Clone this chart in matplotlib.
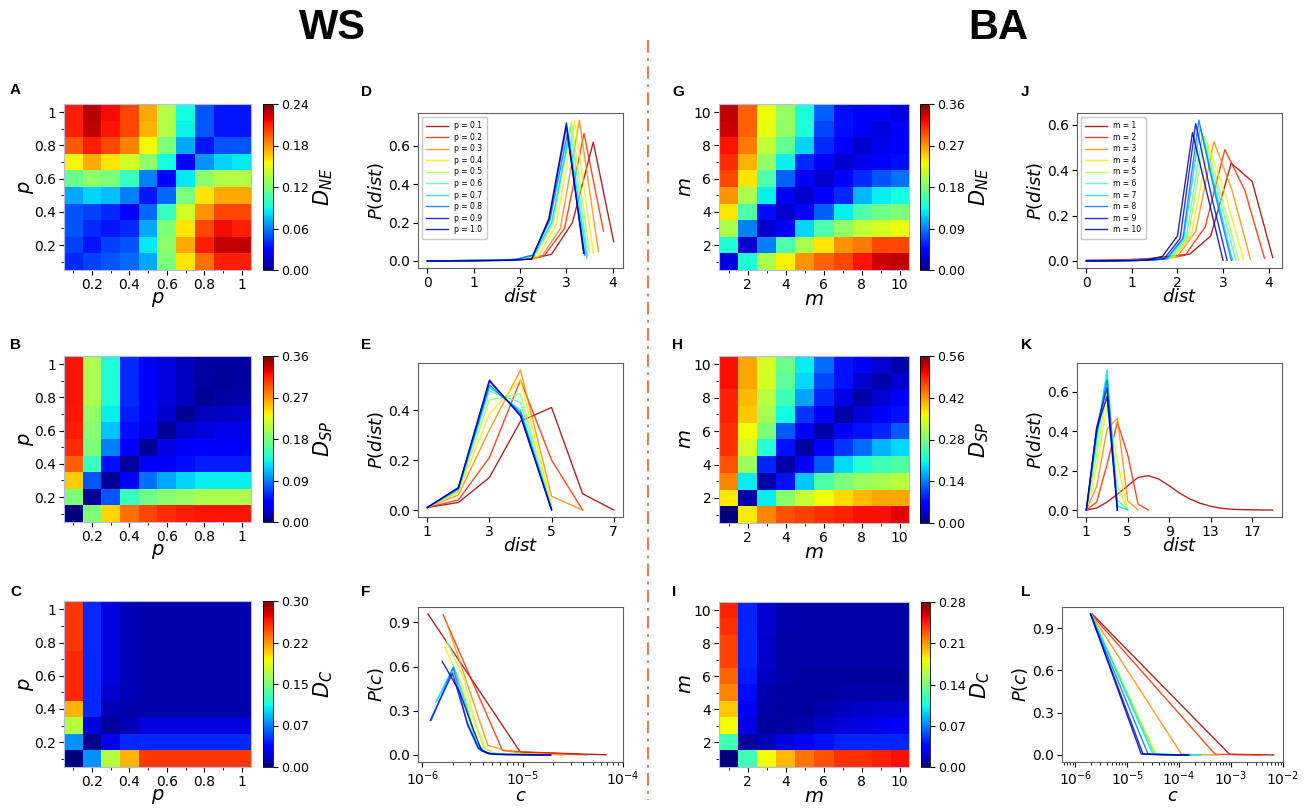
import numpy as np
import matplotlib
matplotlib.use('Agg')
import matplotlib.pyplot as plt
from matplotlib.lines import Line2D

W, H = 1307, 809

# ---- distance matrices (rows listed from the top row = largest parameter) ----
ws_dne = [
    [0.210, 0.228, 0.215, 0.200, 0.175, 0.135, 0.090, 0.050, 0.035, 0.035],
    [0.210, 0.226, 0.213, 0.200, 0.172, 0.135, 0.088, 0.050, 0.035, 0.035],
    [0.195, 0.210, 0.200, 0.185, 0.155, 0.120, 0.070, 0.035, 0.050, 0.050],
    [0.155, 0.175, 0.160, 0.145, 0.125, 0.090, 0.030, 0.065, 0.080, 0.085],
    [0.115, 0.125, 0.120, 0.100, 0.060, 0.030, 0.085, 0.125, 0.135, 0.135],
    [0.070, 0.080, 0.075, 0.060, 0.035, 0.055, 0.120, 0.160, 0.175, 0.175],
    [0.050, 0.045, 0.040, 0.030, 0.055, 0.100, 0.145, 0.180, 0.200, 0.200],
    [0.050, 0.040, 0.035, 0.040, 0.070, 0.120, 0.160, 0.200, 0.215, 0.210],
    [0.045, 0.035, 0.045, 0.050, 0.085, 0.125, 0.175, 0.210, 0.225, 0.225],
    [0.040, 0.045, 0.050, 0.055, 0.070, 0.120, 0.160, 0.190, 0.210, 0.210],
]
ws_dsp = [
    [0.320, 0.200, 0.140, 0.060, 0.045, 0.030, 0.020, 0.012, 0.010, 0.010],
    [0.320, 0.200, 0.140, 0.060, 0.045, 0.030, 0.020, 0.012, 0.008, 0.010],
    [0.320, 0.200, 0.140, 0.060, 0.045, 0.030, 0.020, 0.008, 0.012, 0.014],
    [0.318, 0.190, 0.130, 0.055, 0.045, 0.025, 0.008, 0.020, 0.022, 0.025],
    [0.315, 0.185, 0.115, 0.050, 0.035, 0.008, 0.025, 0.030, 0.035, 0.035],
    [0.310, 0.180, 0.090, 0.045, 0.008, 0.030, 0.040, 0.045, 0.045, 0.045],
    [0.290, 0.150, 0.050, 0.010, 0.045, 0.045, 0.050, 0.055, 0.055, 0.055],
    [0.250, 0.075, 0.008, 0.045, 0.085, 0.105, 0.120, 0.130, 0.130, 0.130],
    [0.180, 0.008, 0.075, 0.150, 0.175, 0.185, 0.190, 0.200, 0.200, 0.200],
    [0.000, 0.180, 0.245, 0.285, 0.300, 0.310, 0.315, 0.320, 0.320, 0.320],
]
ws_dc = [
    [0.255, 0.050, 0.025, 0.015, 0.012, 0.012, 0.012, 0.012, 0.012, 0.012],
    [0.255, 0.050, 0.025, 0.015, 0.012, 0.012, 0.012, 0.012, 0.012, 0.012],
    [0.255, 0.050, 0.025, 0.015, 0.012, 0.012, 0.012, 0.012, 0.012, 0.012],
    [0.260, 0.050, 0.025, 0.015, 0.012, 0.012, 0.012, 0.012, 0.012, 0.012],
    [0.260, 0.050, 0.025, 0.015, 0.012, 0.012, 0.012, 0.012, 0.012, 0.012],
    [0.260, 0.050, 0.022, 0.015, 0.012, 0.012, 0.012, 0.012, 0.012, 0.012],
    [0.215, 0.050, 0.015, 0.012, 0.012, 0.012, 0.012, 0.012, 0.012, 0.012],
    [0.170, 0.025, 0.008, 0.015, 0.025, 0.025, 0.025, 0.025, 0.025, 0.025],
    [0.080, 0.005, 0.030, 0.050, 0.050, 0.050, 0.050, 0.050, 0.050, 0.050],
    [0.000, 0.080, 0.170, 0.215, 0.255, 0.255, 0.255, 0.255, 0.255, 0.255],
]
ba_dne = [
    [0.340, 0.290, 0.230, 0.190, 0.140, 0.080, 0.050, 0.045, 0.040, 0.030],
    [0.335, 0.290, 0.225, 0.190, 0.140, 0.070, 0.050, 0.040, 0.030, 0.040],
    [0.320, 0.280, 0.210, 0.170, 0.120, 0.060, 0.040, 0.025, 0.035, 0.040],
    [0.310, 0.260, 0.190, 0.130, 0.060, 0.040, 0.025, 0.035, 0.040, 0.050],
    [0.300, 0.240, 0.160, 0.080, 0.040, 0.025, 0.040, 0.060, 0.075, 0.085],
    [0.270, 0.200, 0.130, 0.040, 0.025, 0.040, 0.060, 0.110, 0.130, 0.135],
    [0.240, 0.160, 0.050, 0.025, 0.045, 0.080, 0.130, 0.160, 0.175, 0.180],
    [0.200, 0.090, 0.025, 0.045, 0.120, 0.160, 0.190, 0.210, 0.220, 0.230],
    [0.140, 0.025, 0.090, 0.160, 0.200, 0.240, 0.270, 0.280, 0.300, 0.300],
    [0.030, 0.140, 0.200, 0.235, 0.270, 0.290, 0.300, 0.320, 0.335, 0.340],
]
ba_dsp = [
    [0.500, 0.410, 0.340, 0.270, 0.200, 0.130, 0.080, 0.070, 0.040, 0.020],
    [0.500, 0.410, 0.340, 0.260, 0.190, 0.110, 0.080, 0.040, 0.020, 0.040],
    [0.490, 0.400, 0.320, 0.240, 0.160, 0.090, 0.050, 0.020, 0.040, 0.070],
    [0.490, 0.390, 0.310, 0.210, 0.100, 0.070, 0.020, 0.045, 0.070, 0.080],
    [0.480, 0.360, 0.280, 0.120, 0.070, 0.020, 0.060, 0.080, 0.090, 0.120],
    [0.480, 0.340, 0.220, 0.080, 0.020, 0.070, 0.100, 0.130, 0.170, 0.190],
    [0.460, 0.300, 0.090, 0.020, 0.070, 0.120, 0.190, 0.220, 0.240, 0.250],
    [0.430, 0.200, 0.020, 0.080, 0.180, 0.250, 0.280, 0.300, 0.310, 0.320],
    [0.370, 0.020, 0.200, 0.290, 0.330, 0.360, 0.380, 0.400, 0.410, 0.410],
    [0.000, 0.370, 0.430, 0.460, 0.470, 0.480, 0.490, 0.500, 0.500, 0.510],
]
ba_dc = [
    [0.245, 0.045, 0.020, 0.012, 0.010, 0.010, 0.010, 0.010, 0.010, 0.010],
    [0.240, 0.045, 0.020, 0.012, 0.010, 0.010, 0.010, 0.010, 0.010, 0.010],
    [0.235, 0.045, 0.018, 0.010, 0.010, 0.010, 0.010, 0.010, 0.010, 0.010],
    [0.235, 0.045, 0.018, 0.010, 0.010, 0.010, 0.010, 0.010, 0.010, 0.010],
    [0.225, 0.042, 0.016, 0.010, 0.008, 0.008, 0.008, 0.008, 0.008, 0.008],
    [0.215, 0.038, 0.012, 0.008, 0.008, 0.008, 0.010, 0.010, 0.010, 0.010],
    [0.195, 0.030, 0.010, 0.008, 0.008, 0.012, 0.015, 0.018, 0.020, 0.020],
    [0.180, 0.025, 0.008, 0.008, 0.012, 0.018, 0.022, 0.025, 0.028, 0.030],
    [0.120, 0.008, 0.015, 0.025, 0.035, 0.040, 0.045, 0.045, 0.045, 0.045],
    [0.000, 0.120, 0.180, 0.200, 0.220, 0.230, 0.240, 0.240, 0.245, 0.250],
]

# ---- distance distributions, WS ----
p_labels = ['p = 0.1', 'p = 0.2', 'p = 0.3', 'p = 0.4', 'p = 0.5',
            'p = 0.6', 'p = 0.7', 'p = 0.8', 'p = 0.9', 'p = 1.0']
ws_dist_x = [
    [0, 0.45, 0.89, 1.34, 1.79, 2.23, 2.68, 3.13, 3.58, 4.02],
    [0, 0.42, 0.84, 1.27, 1.69, 2.11, 2.53, 2.96, 3.38, 3.80],
    [0, 0.41, 0.82, 1.23, 1.64, 2.05, 2.46, 2.87, 3.28, 3.69],
    [0, 0.40, 0.80, 1.19, 1.59, 1.99, 2.39, 2.78, 3.18, 3.58],
    [0, 0.39, 0.78, 1.17, 1.56, 1.94, 2.33, 2.72, 3.11, 3.50],
    [0, 0.38, 0.77, 1.15, 1.54, 1.92, 2.31, 2.69, 3.08, 3.46],
    [0, 0.38, 0.76, 1.15, 1.53, 1.91, 2.29, 2.68, 3.06, 3.44],
    [0, 0.38, 0.76, 1.13, 1.51, 1.89, 2.27, 2.64, 3.02, 3.40],
    [0, 0.38, 0.75, 1.13, 1.50, 1.88, 2.25, 2.63, 3.00, 3.38],
    [0, 0.37, 0.75, 1.12, 1.50, 1.87, 2.25, 2.62, 3.00, 3.37],
]
ws_dist_y = [
    [0, 0.001, 0.002, 0.003, 0.005, 0.010, 0.035, 0.200, 0.620, 0.100],
    [0, 0.001, 0.002, 0.003, 0.005, 0.010, 0.030, 0.170, 0.665, 0.155],
    [0, 0.001, 0.002, 0.003, 0.004, 0.008, 0.020, 0.170, 0.735, 0.050],
    [0, 0.001, 0.002, 0.003, 0.004, 0.008, 0.025, 0.190, 0.730, 0.040],
    [0, 0.001, 0.002, 0.003, 0.004, 0.008, 0.030, 0.200, 0.725, 0.045],
    [0, 0.001, 0.002, 0.003, 0.004, 0.008, 0.030, 0.200, 0.700, 0.030],
    [0, 0.001, 0.002, 0.003, 0.004, 0.008, 0.030, 0.200, 0.650, 0.017],
    [0, 0.001, 0.002, 0.003, 0.004, 0.008, 0.030, 0.210, 0.660, 0.030],
    [0, 0.000, 0.001, 0.002, 0.003, 0.006, 0.010, 0.220, 0.700, 0.040],
    [0, 0.000, 0.000, 0.001, 0.002, 0.004, 0.010, 0.220, 0.720, 0.040],
]

# shortest path length distributions, WS
ws_sp_x = [[1, 2, 3, 4, 5, 6, 7], [1, 2, 3, 4, 5, 6], [1, 2, 3, 4, 5, 6],
           [1, 2, 3, 4, 5], [1, 2, 3, 4, 5], [1, 2, 3, 4, 5], [1, 2, 3, 4, 5],
           [1, 2, 3, 4, 5], [1, 2, 3, 4, 5], [1, 2, 3, 4, 5]]
ws_sp_y = [
    [0.01, 0.030, 0.130, 0.355, 0.410, 0.065, 0.0],
    [0.01, 0.040, 0.210, 0.520, 0.200, 0.0],
    [0.01, 0.060, 0.320, 0.560, 0.055, 0.0],
    [0.01, 0.070, 0.385, 0.520, 0.020],
    [0.01, 0.075, 0.440, 0.465, 0.010],
    [0.01, 0.080, 0.475, 0.430, 0.005],
    [0.01, 0.085, 0.490, 0.400, 0.003],
    [0.01, 0.085, 0.500, 0.390, 0.002],
    [0.01, 0.088, 0.515, 0.380, 0.001],
    [0.01, 0.090, 0.520, 0.375, 0.000],
]

# clustering distributions, WS (c in units of 1e-6)
ws_c_x = [
    [1.14, 9.5, 17.9, 26.2, 34.6, 42.9, 51.3, 59.6, 68.0],
    [1.61, 6.3, 11.0, 15.7, 20.4, 25.1, 29.8, 34.5, 39.2, 43.9],
    [1.75, 4.5, 7.2, 9.9, 12.6, 15.3, 18.1, 20.8, 23.5, 26.2],
    [1.67, 2.5, 3.3, 4.1, 4.9, 5.7, 8.0, 11.0, 14.0, 17.0],
    [1.75, 2.6, 3.45, 4.3, 5.15, 6.0, 8.0, 11.0, 14.0, 17.0],
    [1.40, 2.07, 2.74, 3.41, 4.08, 4.75, 7.0, 10.0, 14.0, 18.0],
    [1.37, 2.05, 2.73, 3.41, 4.09, 4.77, 7.0, 10.0, 14.0, 18.0],
    [1.23, 2.03, 2.83, 3.63, 4.43, 5.23, 7.0, 10.0, 14.0, 19.0],
    [1.20, 2.00, 2.80, 3.60, 4.40, 5.20, 7.0, 10.0, 14.0, 19.0],
    [1.58, 2.35, 3.12, 3.89, 4.66, 5.43, 7.0, 10.0, 14.0, 19.0],
]
ws_c_y = [
    [0.957, 0.018, 0.015, 0.010, 0.008, 0.005, 0.004, 0.002, 0.001],
    [0.953, 0.030, 0.020, 0.015, 0.010, 0.006, 0.004, 0.003, 0.002, 0.001],
    [0.900, 0.065, 0.025, 0.012, 0.007, 0.005, 0.003, 0.002, 0.001, 0.001],
    [0.735, 0.470, 0.220, 0.050, 0.020, 0.010, 0.005, 0.003, 0.002, 0.001],
    [0.775, 0.520, 0.200, 0.040, 0.015, 0.008, 0.005, 0.003, 0.002, 0.001],
    [0.370, 0.590, 0.350, 0.100, 0.030, 0.010, 0.005, 0.003, 0.002, 0.001],
    [0.360, 0.600, 0.330, 0.090, 0.025, 0.010, 0.005, 0.003, 0.002, 0.001],
    [0.235, 0.595, 0.200, 0.040, 0.010, 0.005, 0.003, 0.002, 0.001, 0.000],
    [0.235, 0.555, 0.220, 0.050, 0.015, 0.006, 0.003, 0.002, 0.001, 0.000],
    [0.635, 0.430, 0.200, 0.030, 0.008, 0.004, 0.002, 0.001, 0.000, 0.000],
]

# ---- distance distributions, BA ----
m_labels = ['m = 1', 'm = 2', 'm = 3', 'm = 4', 'm = 5',
            'm = 6', 'm = 7', 'm = 8', 'm = 9', 'm = 10']
ba_dist_x = [
    [0, 0.45, 0.91, 1.36, 1.82, 2.27, 2.73, 3.18, 3.64, 4.09],
    [0, 0.43, 0.87, 1.30, 1.74, 2.17, 2.61, 3.04, 3.48, 3.91],
    [0, 0.40, 0.80, 1.20, 1.60, 2.00, 2.40, 2.80, 3.20, 3.60],
    [0, 0.38, 0.77, 1.15, 1.53, 1.92, 2.30, 2.68, 3.07, 3.45],
    [0, 0.37, 0.74, 1.11, 1.49, 1.86, 2.23, 2.60, 2.97, 3.34],
    [0, 0.36, 0.73, 1.09, 1.46, 1.82, 2.19, 2.55, 2.92, 3.28],
    [0, 0.36, 0.71, 1.07, 1.43, 1.79, 2.14, 2.50, 2.86, 3.21],
    [0, 0.35, 0.71, 1.06, 1.41, 1.76, 2.12, 2.47, 2.82, 3.18],
    [0, 0.34, 0.69, 1.03, 1.37, 1.71, 2.06, 2.40, 2.74, 3.09],
    [0, 0.33, 0.67, 1.00, 1.33, 1.67, 2.00, 2.33, 2.67, 3.00],
]
ba_dist_y = [
    [0.003, 0.004, 0.006, 0.010, 0.020, 0.030, 0.110, 0.430, 0.350, 0.015],
    [0.001, 0.002, 0.003, 0.005, 0.010, 0.025, 0.150, 0.490, 0.310, 0.012],
    [0.000, 0.001, 0.002, 0.004, 0.008, 0.020, 0.130, 0.525, 0.310, 0.008],
    [0.000, 0.000, 0.001, 0.003, 0.006, 0.015, 0.110, 0.510, 0.280, 0.006],
    [0.000, 0.000, 0.001, 0.002, 0.005, 0.012, 0.100, 0.548, 0.280, 0.005],
    [0.000, 0.000, 0.001, 0.002, 0.004, 0.010, 0.100, 0.560, 0.280, 0.004],
    [0.000, 0.000, 0.001, 0.002, 0.004, 0.010, 0.100, 0.590, 0.290, 0.003],
    [0.000, 0.000, 0.001, 0.002, 0.004, 0.010, 0.100, 0.620, 0.300, 0.003],
    [0.000, 0.000, 0.001, 0.002, 0.004, 0.010, 0.100, 0.605, 0.290, 0.003],
    [0.000, 0.000, 0.001, 0.002, 0.004, 0.020, 0.110, 0.565, 0.280, 0.003],
]

# shortest path length distributions, BA
ba_sp_x = [list(range(1, 20)), [1, 2, 3, 4, 5, 6, 7], [1, 2, 3, 4, 5, 6],
           [1, 2, 3, 4, 5], [1, 2, 3, 4, 5], [1, 2, 3, 4, 5], [1, 2, 3, 4, 5],
           [1, 2, 3, 4], [1, 2, 3, 4], [1, 2, 3, 4]]
ba_sp_y = [
    [0.0, 0.010, 0.040, 0.080, 0.123, 0.165, 0.174, 0.157, 0.123, 0.086,
     0.056, 0.034, 0.019, 0.009, 0.004, 0.002, 0.001, 0.0, 0.0],
    [0.0, 0.040, 0.230, 0.445, 0.280, 0.030, 0.0],
    [0.0, 0.120, 0.410, 0.465, 0.047, 0.0],
    [0.0, 0.220, 0.530, 0.250, 0.0],
    [0.0, 0.280, 0.600, 0.120, 0.0],
    [0.0, 0.330, 0.680, 0.050, 0.0],
    [0.0, 0.370, 0.710, 0.020, 0.0],
    [0.0, 0.390, 0.660, 0.0],
    [0.0, 0.420, 0.620, 0.0],
    [0.0, 0.410, 0.575, 0.0],
]

# clustering distributions, BA (c in units of 1e-6)
ba_c_x = [
    [2.1, 930, 1860, 2790, 3720, 4650, 5580, 6600],
    [2.0, 490, 980, 1470, 1960, 2450, 2940, 3430, 3920],
    [2.0, 111, 220, 329, 438, 570],
    [2.0, 36, 70, 104, 138, 172, 206, 240],
    [2.0, 34, 66, 98, 130, 162, 194, 226],
    [2.0, 33, 64, 95, 126, 157, 188, 220, 250, 270],
    [2.0, 31, 60, 89, 118, 147, 176, 205, 234, 260],
    [1.95, 25, 48, 71, 94, 117, 140, 163],
    [1.95, 20, 38, 56, 74, 92, 110, 128, 150],
    [1.95, 18.5, 35, 51.5, 68, 84.5, 101, 117.5, 134, 150],
]
ba_c_y = [
    [1.0, 0.005, 0.003, 0.002, 0.001, 0.001, 0.0, 0.0],
    [1.0, 0.005, 0.003, 0.002, 0.001, 0.001, 0.0, 0.0, 0.0],
    [1.0, 0.004, 0.002, 0.001, 0.0, 0.0],
    [1.0, 0.005, 0.003, 0.002, 0.001, 0.0, 0.0, 0.0],
    [1.0, 0.005, 0.003, 0.002, 0.001, 0.0, 0.0, 0.0],
    [1.0, 0.006, 0.003, 0.002, 0.001, 0.0, 0.0, 0.0, 0.0, 0.0],
    [1.0, 0.006, 0.003, 0.002, 0.001, 0.0, 0.0, 0.0, 0.0, 0.0],
    [1.0, 0.007, 0.003, 0.002, 0.001, 0.0, 0.0, 0.0],
    [1.0, 0.007, 0.003, 0.002, 0.001, 0.0, 0.0, 0.0, 0.0],
    [1.0, 0.007, 0.003, 0.002, 0.001, 0.0, 0.0, 0.0, 0.0, 0.0],
]

p_ticks = [0.2, 0.4, 0.6, 0.8, 1.0]
p_ticklabels = ['0.2', '0.4', '0.6', '0.8', '1']
m_ticks = [2, 4, 6, 8, 10]
m_ticklabels = ['2', '4', '6', '8', '10']

line_colors = plt.cm.jet(np.linspace(0.97, 0.03, 10))

fig = plt.figure(figsize=(W / 100, H / 100), dpi=100)


def box(x0, y0, x1, y1):
    # pixel box (top-left origin) -> figure fraction rect
    return [x0 / W, 1 - y1 / H, (x1 - x0) / W, (y1 - y0) / H]


def heatmap(rect, crect, mat, vmax, cticks, clabels, is_p, cblabel):
    ax = fig.add_axes(box(*rect))
    if is_p:
        ext = (0.05, 1.05, 0.05, 1.05)
        ticks, tlabels, minor = p_ticks, p_ticklabels, [0.1, 0.3, 0.5, 0.7, 0.9]
        name = '$p$'
    else:
        ext = (0.5, 10.5, 0.5, 10.5)
        ticks, tlabels, minor = m_ticks, m_ticklabels, [1, 3, 5, 7, 9]
        name = '$m$'
    im = ax.imshow(np.array(mat), cmap='jet', vmin=0, vmax=vmax,
                   extent=ext, aspect='auto', interpolation='nearest')
    ax.set_xticks(ticks)
    ax.set_xticklabels(tlabels)
    ax.set_yticks(ticks)
    ax.set_yticklabels(tlabels)
    ax.set_xticks(minor, minor=True)
    ax.set_yticks(minor, minor=True)
    ax.tick_params(labelsize=10, pad=2)
    ax.set_xlabel(name, fontsize=14, labelpad=-1)
    ax.set_ylabel(name, fontsize=14, labelpad=-1)
    for s in ax.spines.values():
        s.set_color('#b4bce6')
        s.set_linewidth(0.8)
    cax = fig.add_axes(box(*crect))
    cb = fig.colorbar(im, cax=cax)
    cb.set_ticks(cticks)
    cb.set_ticklabels(clabels)
    cb.ax.tick_params(labelsize=9, pad=2)
    cb.outline.set_linewidth(0.6)
    cb.set_label(cblabel, fontsize=15, labelpad=2)
    return ax


def curves(rect, xs, ys, xlabel, ylabel, labels=None, scale=1.0):
    ax = fig.add_axes(box(*rect))
    for i in range(len(xs)):
        lab = labels[i] if labels else None
        ax.plot(np.array(xs[i]) * scale, ys[i], color=line_colors[i],
                lw=1.0, alpha=0.85, label=lab)
    ax.set_xlabel(xlabel, fontsize=13, labelpad=-1)
    ax.set_ylabel(ylabel, fontsize=13, labelpad=2)
    ax.tick_params(labelsize=10, pad=2)
    for s in ax.spines.values():
        s.set_color('#606060')
    if labels:
        ax.legend(loc='upper left', fontsize=5.5, labelspacing=0.33,
                  handlelength=2.8, borderpad=0.6, framealpha=1,
                  edgecolor='#c8c8c8')
    return ax


# WS column
heatmap((64, 104, 251, 270), (263, 104, 273, 270), ws_dne, 0.24,
        [0, 0.06, 0.12, 0.18, 0.24], ['0.00', '0.06', '0.12', '0.18', '0.24'],
        True, '$D_{NE}$')
heatmap((64, 356, 251, 522), (263, 356, 273, 522), ws_dsp, 0.36,
        [0, 0.09, 0.18, 0.27, 0.36], ['0.00', '0.09', '0.18', '0.27', '0.36'],
        True, '$D_{SP}$')
heatmap((64, 601, 251, 767), (263, 601, 273, 767), ws_dc, 0.30,
        [0, 0.075, 0.15, 0.225, 0.30], ['0.00', '0.07', '0.15', '0.22', '0.30'],
        True, '$D_C$')

ax = curves((418, 113, 623, 268), ws_dist_x, ws_dist_y, '$dist$', '$P(dist)$', p_labels)
ax.set_xticks([0, 1, 2, 3, 4])
ax.set_yticks([0.0, 0.2, 0.4, 0.6])
ax = curves((418, 363, 623, 517), ws_sp_x, ws_sp_y, '$dist$', '$P(dist)$')
ax.set_xticks([1, 3, 5, 7])
ax.set_yticks([0.0, 0.2, 0.4])
ax = curves((418, 607, 623, 762), ws_c_x, ws_c_y, '$c$', '$P(c)$', scale=1e-6)
ax.set_xscale('log')
ax.set_xlim(9.06e-7, 1e-4)
ax.set_yticks([0.0, 0.3, 0.6, 0.9])

# BA column
heatmap((719, 104, 909, 270), (920, 104, 929, 270), ba_dne, 0.36,
        [0, 0.09, 0.18, 0.27, 0.36], ['0.00', '0.09', '0.18', '0.27', '0.36'],
        False, '$D_{NE}$')
heatmap((719, 356, 909, 523), (920, 356, 929, 523), ba_dsp, 0.56,
        [0, 0.14, 0.28, 0.42, 0.56], ['0.00', '0.14', '0.28', '0.42', '0.56'],
        False, '$D_{SP}$')
heatmap((719, 602, 909, 767), (921, 602, 930, 767), ba_dc, 0.28,
        [0, 0.07, 0.14, 0.21, 0.28], ['0.00', '0.07', '0.14', '0.21', '0.28'],
        False, '$D_C$')

ax = curves((1077, 113, 1282, 268), ba_dist_x, ba_dist_y, '$dist$', '$P(dist)$', m_labels)
ax.set_xticks([0, 1, 2, 3, 4])
ax.set_yticks([0.0, 0.2, 0.4, 0.6])
ax = curves((1077, 363, 1282, 517), ba_sp_x, ba_sp_y, '$dist$', '$P(dist)$')
ax.set_xticks([1, 5, 9, 13, 17])
ax.set_yticks([0.0, 0.2, 0.4, 0.6])
ax = curves((1062, 607, 1283, 762), ba_c_x, ba_c_y, '$c$', '$P(c)$', scale=1e-6)
ax.set_xscale('log')
ax.set_xlim(10 ** -6.26, 1e-2)
ax.set_yticks([0.0, 0.3, 0.6, 0.9])

# panel letters
letters = [('A', 10, 90), ('B', 10, 345), ('C', 10, 592),
           ('D', 361, 92), ('E', 361, 345), ('F', 361, 592),
           ('G', 672, 92), ('H', 672, 345), ('I', 672, 592),
           ('J', 1021, 92), ('K', 1021, 345), ('L', 1021, 592)]
for t, x, y in letters:
    fig.text(x / W, 1 - y / H, t, fontsize=11, weight='bold',
             family='Liberation Sans', ha='left', va='center')

fig.text(332 / W, 1 - 28 / H, 'WS', fontsize=30, weight='bold',
         family=['Liberation Sans Narrow', 'Liberation Sans'], ha='center',
         va='center', stretch='condensed')
fig.text(998 / W, 1 - 28 / H, 'BA', fontsize=30, weight='bold',
         family=['Liberation Sans Narrow', 'Liberation Sans'], ha='center',
         va='center', stretch='condensed')

# separator between the two model columns
fig.add_artist(Line2D([648 / W, 648 / W], [1 - 40 / H, 1 - 800 / H],
                      transform=fig.transFigure, color='#f06a40', lw=1.3,
                      dashes=(7, 3, 1.5, 3)))

fig.savefig('out.png', dpi=100)
